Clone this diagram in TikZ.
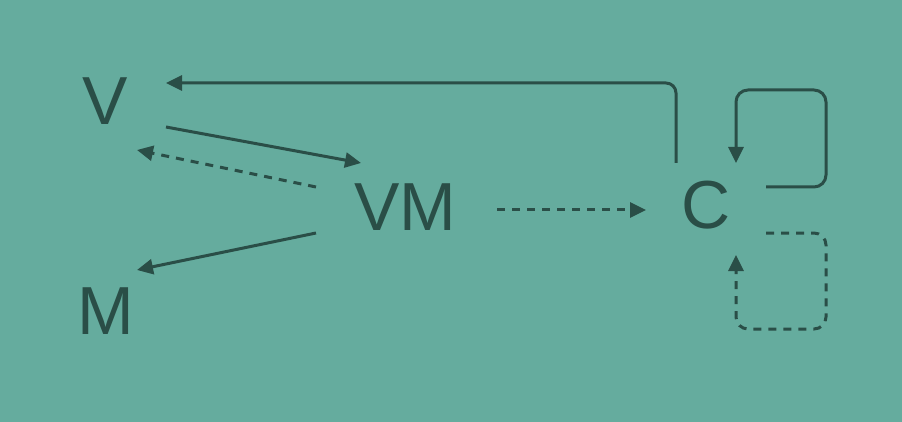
\documentclass[tikz,border=0pt]{standalone}
\usepackage{fontspec}
\setmainfont{Liberation Sans}
\usetikzlibrary{arrows.meta,calc}
\definecolor{bgteal}{RGB}{101,172,158}
\definecolor{ink}{RGB}{42,78,71}
\tikzset{
  lbl/.style={inner sep=0pt, anchor=base, text=ink, font=\fontsize{68}{68}\selectfont},
  conn/.style={draw=ink, line width=3pt, -{Triangle[length=16pt,width=15pt]}},
  dsh/.style={dash pattern=on 8pt off 7pt}
}
\begin{document}
\begin{tikzpicture}[x=1pt,y=-1pt]
\fill[bgteal] (0,0) rectangle (902,422);
\useasboundingbox (0,0) rectangle (902,422);
\node[lbl] (v) at (105,125) {V};
\node[lbl] (m) at (106,334) {M};
\node[lbl] (vm) at (405,230) {VM};
\node[lbl] (c) at (706,229) {C};
% C -> V
\draw[conn, rounded corners=10pt] ($(c.base)+(-30,-66)$) |- ($(v.base)+(61,-42)$);
% V -> VM
\draw[conn] ($(v.base)+(61,2)$) -- ($(vm.base)+(-44,-67)$);
% VM -> V dashed
\draw[conn, dsh] ($(vm.base)+(-89,-43)$) -- ($(v.base)+(32,25)$);
% VM -> M
\draw[conn] ($(vm.base)+(-89,3)$) -- ($(m.base)+(31,-64)$);
% VM -> C dashed
\draw[conn, dsh] ($(vm.base)+(92,-20)$) -- ($(c.base)+(-60,-19)$);
% C self loop solid
\draw[conn, rounded corners=12pt] ($(c.base)+(60,-42)$) -- ($(c.base)+(120,-42)$) -- ($(c.base)+(120,-139)$) -- ($(c.base)+(30,-139)$) -- ($(c.base)+(30,-66)$);
% C self loop dashed
\draw[conn, dsh, rounded corners=12pt] ($(c.base)+(60,4)$) -- ($(c.base)+(120,4)$) -- ($(c.base)+(120,100)$) -- ($(c.base)+(30,100)$) -- ($(c.base)+(30,26)$);
\end{tikzpicture}
\end{document}
